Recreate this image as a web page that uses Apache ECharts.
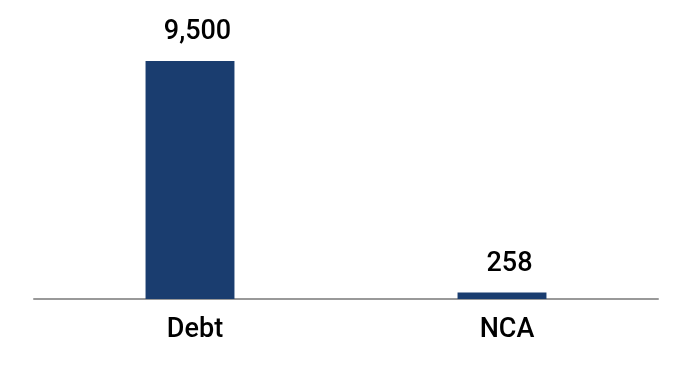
<!DOCTYPE html>
<html><head><meta charset="utf-8">
<script src="https://cdn.jsdelivr.net/npm/echarts@6/dist/echarts.min.js"></script>
<style>html,body{margin:0;padding:0;background:#fff}#c{width:674px;height:384px}</style>
</head><body><div id="c"></div>
<script>
const categories = ['Debt', 'NCA'];
const values = [9500, 258];

const chart = echarts.init(document.getElementById('c'), null, {renderer: 'canvas'});
chart.setOption({
  animation: false,
  backgroundColor: '#ffffff',
  grid: {left: 34, right: 16, top: 48.5, bottom: 85},
  xAxis: {
    type: 'category',
    data: categories,
    axisLine: {lineStyle: {color: '#999999', width: 2}},
    axisTick: {show: false},
    axisLabel: {color: '#000000', fontFamily: 'Roboto', fontSize: 27, fontWeight: 500, margin: 18,
      padding: [0, 0, 0, 10]}
  },
  yAxis: {
    type: 'value', min: 0, max: 10000,
    show: false, splitLine: {show: false}
  },
  series: [{
    type: 'bar',
    data: values,
    barWidth: '28.5%',
    itemStyle: {color: '#1a3d6f'},
    label: {
      show: true, position: 'top', distance: 15, offset: [7.5, 0],
      color: '#000000', fontFamily: 'Roboto', fontSize: 27, fontWeight: 500,
      formatter: p => p.value.toLocaleString('en-US')
    }
  }]
});
</script></body></html>
